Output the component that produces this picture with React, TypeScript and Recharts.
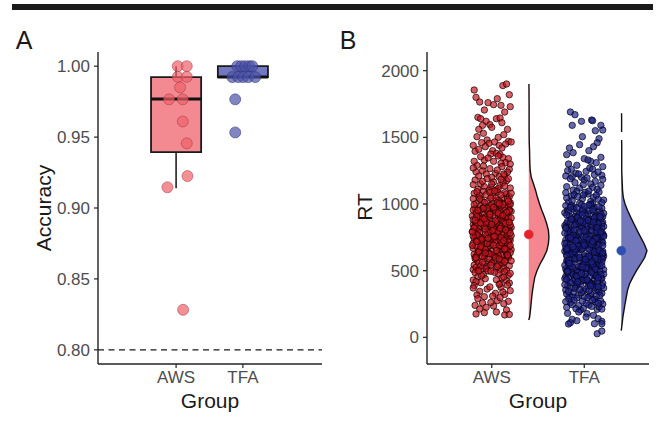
import React from "react"
import {
  ScatterChart,
  ComposedChart,
  Scatter,
  Area,
  XAxis,
  YAxis,
  ReferenceArea,
  ReferenceLine,
} from "recharts"

const groups = ["AWS", "TFA"]

// panel A: per-participant accuracy
const awsAccuracy = [1.0, 1.0, 0.9925, 0.9925, 0.985, 0.9766, 0.9766, 0.961, 0.9456, 0.9225, 0.9146, 0.8282]
const awsAccJitter = [0.025, 0.16, 0.025, 0.16, 0.06, -0.105, 0.1, 0.1, 0.16, 0.17, -0.13, 0.105]
const tfaAccuracy = [1.0, 1.0, 1.0, 1.0, 1.0, 0.9923, 0.9923, 0.9923, 0.9923, 0.9923, 0.9766, 0.9533]
const tfaAccJitter = [-0.085, -0.025, 0.035, 0.095, 0.14, -0.16, -0.07, 0.005, 0.08, 0.185, -0.115, -0.115]

const boxQ1 = [0.9394, 0.9923]
const boxMedian = [0.9768, 0.9923]
const boxQ3 = [0.9923, 1.0]
const whiskerLow = [0.914, 0.9923]
const whiskerHigh = [1.0, 1.0]

// panel B: single trials [jitter, RT]
const awsTrials = [
  [-0.19,1855],[0.12,1888],[0.16,1900],[-0.17,1800],[0.19,1820],[0.06,1790],
  [-0.04,1760],[-0.13,1765],[0.02,1745],[0.10,1740],[0.20,1730],[-0.08,1705],[0.14,1690],
  [-0.15,1650],[-0.12,1640],[0.05,1640],[0.09,1645],[-0.06,1620],[0.11,1610],[-0.02,1595],[0.17,1560],[-0.10,1590],
  [-0.14,1560],[0.00,1575],[-0.09,1530],[0.07,1500],[-0.16,1505],[0.13,1520],[-0.05,1480],[0.18,1470],
  [-0.18,1395],[-0.11,1460],[-0.03,1455],[0.03,1465],[0.08,1440],[0.15,1450],[0.21,1465],[-0.07,1430],[0.11,1420],[-0.14,1410],[0.01,1400],[-0.20,1440],
  [-0.01,1375],[0.05,1380],[0.09,1370],[0.12,1350],[0.18,1340],[-0.16,1290],[-0.08,1330],[0.02,1320],[0.15,1310],[-0.12,1355],[0.20,1300],[-0.04,1345],[0.07,1360],[-0.19,1320],[0.10,1305],
  [-0.17,1240],[-0.10,1250],[0.04,1230],[0.14,1215],[-0.02,1265],[0.19,1260],[-0.06,1225],[0.08,1205],[-0.14,1210],[0.11,1280],[0.00,1200],[0.17,1240],[-0.20,1270],[0.06,1255],[-0.09,1285],[0.13,1225],
  [-0.18,1180],[-0.12,1150],[-0.05,1190],[0.02,1165],[0.09,1140],[0.16,1175],[0.20,1120],[-0.15,1110],[-0.08,1130],[0.05,1105],[0.12,1160],[-0.01,1125],[0.18,1190],[-0.20,1145],[0.07,1115],[-0.10,1170],[0.14,1135],[0.00,1150],[-0.03,1102],[0.10,1185],
  [-0.19,1080],[-0.14,1050],[-0.09,1095],[-0.04,1020],[0.01,1060],[0.06,1090],[0.11,1040],[0.16,1075],[0.20,1010],[-0.17,1005],[-0.11,1030],[-0.06,1070],[0.00,1000],[0.04,1045],[0.09,1015],[0.14,1085],[0.19,1055],[-0.20,1040],[-0.13,1065],[-0.02,1088],[0.07,1025],[0.12,1003],[0.17,1035],[-0.08,1012],[0.03,1098],[-0.16,1092],[0.10,1068],[0.21,1080],
  [-0.21,910],[-0.18,965],[-0.15,940],[-0.12,985],[-0.09,920],[-0.06,955],[-0.03,905],[0.00,975],[0.03,935],[0.06,990],[0.09,915],[0.12,960],[0.15,930],[0.18,980],[0.21,945],[-0.19,995],[-0.16,925],[-0.13,950],[-0.10,970],[-0.07,902],
  [-0.04,942],[-0.01,988],[0.02,918],[0.05,962],[0.08,948],[0.11,908],[0.14,972],[0.17,938],[0.20,996],[-0.20,955],[-0.14,912],[-0.08,978],[-0.02,928],[0.04,952],[0.10,985],[0.16,905],[-0.17,932],[-0.05,968],[0.07,922],[0.19,958],
  [-0.20,845],[0.13,812],[-0.07,878],[0.04,833],[0.18,866],[-0.15,801],[0.09,889],[-0.01,851],[0.21,824],[-0.11,870],[0.06,806],[-0.18,838],[0.15,895],[-0.04,817],[0.11,859],[-0.13,884],[0.01,842],[0.19,803],[-0.09,827],[0.07,873],[-0.17,861],[0.14,836],[-0.02,898],
  [0.10,809],[-0.20,882],[0.03,855],[0.17,828],[-0.06,848],[0.12,877],[-0.14,815],[0.00,868],[0.20,842],[-0.10,893],[0.05,820],[-0.16,853],[0.16,886],[-0.03,804],[0.08,840],[-0.19,819],[0.13,862],[-0.08,835],[0.02,812],[0.18,899],[-0.12,857],[0.10,830],
  [0.16,752],[-0.12,718],[0.03,786],[-0.19,741],[0.09,703],[-0.05,767],[0.20,729],[-0.15,795],[0.06,756],[-0.08,712],[0.13,778],[-0.01,735],[0.18,798],[-0.17,762],[0.01,724],[-0.10,749],[0.11,770],[-0.20,706],[0.07,744],[-0.03,791],[0.15,716],[-0.13,783],[0.04,760],[-0.06,728],
  [0.19,739],[-0.18,774],[0.08,799],[-0.11,707],[0.14,746],[0.00,765],[-0.16,733],[0.10,711],[-0.04,789],[0.21,763],[-0.09,743],[0.05,722],[-0.14,757],[0.17,781],[-0.02,701],[0.12,737],[-0.21,794],[0.02,751],[-0.07,772],[0.09,727],[0.18,714],[-0.12,745],[0.06,788],[-0.16,768],
  [-0.13,655],[0.08,612],[-0.02,688],[0.17,640],[-0.18,603],[0.05,671],[-0.09,626],[0.14,694],[0.00,645],[-0.20,668],[0.11,618],[-0.06,651],[0.19,679],[-0.15,633],[0.03,607],[0.09,662],[-0.11,697],[0.16,624],[-0.04,640],[0.21,658],[-0.17,685],[0.06,631],[-0.08,610],
  [0.12,674],[-0.01,699],[-0.19,622],[0.15,648],[-0.12,664],[0.02,692],[0.18,605],[-0.05,638],[0.10,681],[-0.14,646],[0.07,616],[-0.21,690],[0.13,657],[-0.03,628],[0.20,635],[-0.10,672],[0.04,601],[-0.16,614],[0.11,685],[-0.07,660],[0.16,666],[0.01,619],
  [0.12,552],[-0.16,578],[0.05,521],[-0.08,594],[0.19,537],[-0.02,566],[0.09,505],[-0.19,541],[0.15,583],[-0.11,512],[0.02,571],[-0.05,529],[0.18,599],[-0.14,556],[0.07,545],[-0.20,508],[0.13,517],[-0.03,588],
  [0.10,561],[-0.17,525],[0.21,574],[-0.09,548],[0.04,596],[-0.12,534],[0.16,503],[0.00,558],[-0.06,515],[0.11,580],[-0.18,590],[0.06,531],[-0.01,543],[0.14,569],[-0.15,502],[0.08,587],[-0.10,564],
  [-0.18,485],[0.14,492],[-0.09,470],[0.07,478],[-0.15,455],[0.18,465],[-0.04,498],[0.11,445],[-0.20,430],[0.03,488],[-0.12,410],[0.16,425],[0.09,402],[-0.07,440],[0.20,480],[-0.17,418],[0.13,452],[-0.01,495],[0.05,432],[-0.11,462],[0.19,407],[-0.14,498],
  [-0.19,388],[0.10,375],[-0.05,362],[0.17,392],[-0.13,345],[0.04,330],[0.20,350],[-0.16,318],[0.08,398],[-0.08,305],[0.14,322],[-0.02,378],[0.12,340],[-0.20,370],[0.01,310],
  [-0.15,290],[0.06,275],[-0.10,258],[0.18,270],[-0.18,240],[0.02,235],[0.13,252],[-0.06,225],[0.09,298],[-0.13,212],[0.16,205],[-0.01,262],
  [-0.17,175],[0.05,190],[0.14,168],[-0.08,185],[0.19,172],
  [-0.16,905],[0.04,872],[0.19,948],[-0.07,812],[0.12,995],[-0.20,760],[0.08,688],[-0.11,733],[0.15,855],[-0.02,922],[0.20,782],[-0.14,642],[0.06,1010],[-0.05,705],[0.17,617],[-0.18,878],[0.10,748],
  [-0.09,968],[0.01,801],[0.14,663],[-0.13,1038],[0.21,895],[-0.03,626],[0.07,933],[-0.19,822],[0.11,709],[-0.06,864],[0.18,1022],[-0.12,679],[0.03,757],[0.16,938],[-0.17,598],[0.09,818],[-0.01,1045],
  [-0.15,953],[0.13,725],[0.05,650],[-0.08,888],[0.20,690],[-0.21,790],[0.02,975],[-0.10,608],[0.15,806],[-0.04,742],[0.19,864],[-0.16,718],[0.08,1002],[-0.07,632],[0.12,915],[0.00,847],
]

const tfaTrials = [
  [-0.15,1690],[-0.10,1670],[0.08,1630],[0.09,1625],[-0.13,1590],[-0.03,1620],[0.18,1590],[0.12,1550],
  [0.20,1555],[-0.02,1505],[0.16,1490],[0.14,1460],
  [-0.16,1420],[-0.05,1445],[0.05,1400],[-0.12,1385],[0.10,1430],[0.18,1350],[-0.19,1370],
  [0.00,1340],[0.07,1320],[-0.17,1300],[0.13,1310],[-0.08,1290],[0.20,1280],[0.04,1330],[-0.14,1260],
  [-0.18,1250],[-0.09,1230],[0.02,1245],[0.11,1220],[0.19,1215],[-0.13,1205],[0.06,1270],[-0.03,1200],[0.15,1240],[-0.20,1210],[0.09,1262],[-0.06,1225],
  [-0.15,1190],[0.00,1180],[0.12,1170],[-0.10,1160],[0.07,1150],[0.18,1140],[-0.19,1130],[-0.05,1120],[0.14,1110],[0.03,1195],[-0.12,1105],[0.20,1185],[-0.01,1145],[0.09,1125],
  [-0.20,1085],[-0.14,1060],[-0.08,1095],[-0.02,1040],[0.04,1075],[0.10,1050],[0.16,1090],[0.21,1030],[-0.17,1015],[-0.11,1070],[-0.05,1005],[0.01,1088],[0.07,1020],[0.13,1065],[0.19,1010],[-0.19,1045],[-0.07,1055],[0.05,1098],[0.15,1035],[-0.13,1025],[0.09,1002],[-0.01,1068],
  [-0.21,935],[0.11,972],[-0.06,915],[0.17,948],[-0.14,990],[0.04,925],[-0.01,960],[0.20,905],[-0.18,955],[0.08,985],[-0.09,940],[0.14,918],[-0.03,996],[0.01,932],[-0.16,910],[0.19,968],[0.06,950],[-0.11,978],[0.13,902],
  [-0.20,988],[-0.05,928],[0.10,945],[0.16,980],[-0.12,962],[0.02,912],[-0.17,942],[0.07,998],[-0.08,970],[0.21,930],[-0.02,952],[0.12,908],[-0.15,975],[0.05,992],[0.18,922],[-0.10,905],[0.00,982],[-0.19,918],[0.09,958],
  [0.15,842],[-0.12,878],[0.03,805],[-0.19,855],[0.10,890],[-0.04,828],[0.20,862],[-0.16,812],[0.07,848],[-0.08,895],[0.13,820],[0.00,872],[-0.21,838],[0.17,803],[-0.10,860],[0.05,885],[-0.14,815],[0.19,852],[-0.02,835],[0.11,898],[-0.18,870],[0.08,808],[-0.06,845],
  [0.14,866],[0.01,822],[-0.13,888],[0.21,832],[-0.09,850],[0.04,876],[-0.17,802],[0.12,858],[-0.03,818],[0.18,892],[-0.11,840],[0.06,865],[-0.20,825],[0.16,810],[-0.05,882],[0.09,830],[-0.15,868],[0.02,852],[0.19,818],[-0.07,899],[0.13,844],[-0.01,862],
  [-0.17,752],[0.09,718],[-0.04,786],[0.18,741],[-0.12,703],[0.05,767],[-0.20,729],[0.14,795],[-0.07,756],[0.01,712],[0.20,778],[-0.15,735],[0.08,798],[-0.02,762],[0.16,724],[-0.10,749],[0.03,770],[-0.19,706],[0.12,744],[-0.05,791],[0.19,716],[-0.13,783],[0.06,760],[-0.08,728],[0.15,739],
  [-0.18,774],[0.00,799],[0.10,707],[-0.14,746],[0.21,765],[-0.03,733],[0.07,711],[-0.16,789],[0.13,763],[-0.09,743],[0.04,722],[0.17,757],[-0.21,781],[-0.01,701],[0.11,737],[-0.11,794],[0.02,751],[0.18,772],[-0.06,727],[0.09,714],[-0.17,745],[0.14,788],[-0.12,768],[0.05,735],[0.20,709],
  [0.13,655],[-0.10,612],[0.02,688],[-0.18,640],[0.17,603],[-0.05,671],[0.08,626],[-0.15,694],[0.20,645],[-0.01,668],[-0.12,618],[0.11,651],[-0.20,679],[0.05,633],[0.15,607],[-0.08,662],[0.00,697],[-0.16,624],[0.18,640],[-0.03,658],[0.09,685],[-0.13,631],[0.21,610],[-0.06,674],[0.04,699],[-0.19,622],
  [0.12,648],[-0.09,664],[0.16,692],[0.01,605],[-0.14,638],[0.07,681],[-0.21,646],[0.19,616],[-0.04,690],[0.10,657],[-0.11,628],[0.14,635],[-0.17,672],[0.03,601],[0.18,614],[-0.07,685],[0.06,660],[-0.02,666],[-0.15,619],[0.12,677],[-0.19,652],[0.08,695],[0.20,628],[-0.10,642],[0.00,612],[0.15,669],
  [-0.14,552],[0.10,578],[-0.03,521],[0.19,594],[-0.17,537],[0.05,566],[-0.09,505],[0.15,541],[0.00,583],[-0.20,512],[0.12,571],[-0.06,529],[0.18,599],[-0.12,556],[0.03,545],[0.21,508],[-0.16,517],[0.08,588],[-0.01,561],[0.14,525],[-0.19,574],[0.06,548],[-0.07,596],[0.17,534],[-0.11,503],
  [0.01,558],[0.11,515],[-0.15,580],[0.20,590],[-0.04,531],[0.09,543],[-0.18,569],[0.13,502],[-0.08,587],[0.04,564],[-0.21,540],[0.16,555],[-0.02,510],[0.07,597],[-0.13,526],[0.19,563],[-0.05,575],[0.10,533],[-0.10,590],[0.02,518],[0.15,585],[-0.17,560],[0.06,506],[-0.01,545],[0.12,592],
  [0.16,452],[-0.13,478],[0.04,421],[-0.19,494],[0.11,437],[-0.06,466],[0.20,405],[-0.10,441],[0.02,483],[-0.16,412],[0.14,471],[-0.03,429],[0.08,499],[-0.20,456],[0.18,445],[-0.08,408],[0.05,417],[-0.14,488],[0.12,461],[-0.01,425],[0.21,474],[-0.17,448],[0.07,496],
  [-0.11,434],[0.15,403],[0.00,458],[-0.05,415],[0.10,480],[-0.18,490],[0.03,431],[0.19,443],[-0.12,469],[0.09,402],[-0.07,487],[0.13,464],[-0.21,440],[0.06,455],[-0.15,410],[0.17,497],[-0.02,426],[0.01,475],[-0.09,463],[0.14,418],[-0.19,433],[0.08,485],
  [-0.18,385],[0.12,352],[-0.04,398],[0.19,331],[-0.14,366],[0.06,310],[-0.09,378],[0.16,342],[0.00,305],[-0.20,355],[0.10,392],[-0.06,320],[0.21,370],[-0.12,337],[0.04,382],[-0.16,312],[0.14,360],[-0.01,348],
  [0.08,399],[-0.19,325],[0.17,315],[-0.08,390],[0.02,362],[-0.13,302],[0.11,375],[-0.03,335],[0.19,388],[-0.17,345],[0.07,326],[-0.10,368],[0.13,308],[-0.21,395],[0.05,350],[0.15,380],[-0.05,358],
  [0.11,285],[-0.15,260],[0.05,242],[-0.08,295],[0.18,270],[-0.19,225],[0.02,255],[0.14,210],[-0.11,278],[0.08,232],[-0.04,205],[0.20,250],[-0.17,290],[0.12,265],[-0.01,218],[-0.13,245],[0.16,228],[0.04,298],[-0.06,238],[0.19,212],[-0.20,268],[0.09,280],[-0.09,215],[0.15,257],[-0.02,272],
  [-0.18,180],[0.10,165],[-0.06,190],[0.15,140],[-0.13,135],[0.03,178],[0.19,120],[-0.15,110],
  [-0.17,100],[-0.08,125],[0.02,152],[0.11,102],[0.19,102],[0.14,27],[0.19,47],
  [0.17,905],[-0.04,872],[0.09,548],[-0.19,612],[0.13,795],[-0.08,455],[0.20,688],[-0.13,733],[0.02,520],[0.15,855],[-0.17,578],[0.06,402],[-0.02,922],[0.11,642],[-0.21,705],[0.18,470],[-0.06,617],
  [0.04,878],[-0.15,748],[0.19,538],[-0.10,663],[0.07,385],[0.14,822],[-0.01,709],[-0.18,495],[0.10,864],[-0.12,679],[0.21,757],[-0.05,598],[0.03,432],[0.16,650],[-0.20,818],[0.08,565],
  [-0.09,725],[0.12,512],[-0.14,888],[0.00,690],[0.18,790],[-0.03,478],[0.05,608],[-0.16,555],[0.13,742],[-0.07,418],[0.20,632],[-0.11,805],[0.01,585],[0.09,718],[-0.19,665],[0.15,445],[-0.02,528],
]

const rtMeans = [772, 650]
const violinBase = [1.4, 2.4]

// half-violin density (x units) on an RT grid
const rtGrid = [50, 100, 130, 150, 200, 250, 300, 350, 400, 450, 500, 550, 600, 650, 700, 750, 800, 850, 900, 950, 1000, 1050, 1100, 1150, 1200, 1250, 1300, 1350, 1400, 1450, 1480, 1500, 1540, 1550, 1600, 1650, 1680, 1700, 1750, 1800, 1850, 1900]
const awsDensity = [null, null, 0, 0.009, 0.018, 0.025, 0.032, 0.041, 0.052, 0.065, 0.089, 0.122, 0.162, 0.195, 0.212, 0.218, 0.213, 0.195, 0.171, 0.143, 0.117, 0.094, 0.075, 0.052, 0.027, 0.016, 0.012, 0.01, 0.009, 0.006, 0.005, 0.005, 0.004, 0.004, 0.004, 0.004, 0.004, 0.004, 0.004, 0.003, 0.003, 0.002]
const tfaDensity = [0, 0.009, 0.014, 0.017, 0.029, 0.041, 0.054, 0.067, 0.089, 0.124, 0.165, 0.211, 0.254, 0.278, 0.249, 0.211, 0.173, 0.138, 0.103, 0.07, 0.041, 0.022, 0.014, 0.011, 0.008, 0.005, 0.005, 0.005, 0.005, 0.005, 0.004, null, 0.004, 0.004, 0.004, 0.004, 0.003, null, null, null, null, null]

const FONT = "'Liberation Sans', Arial, Helvetica, sans-serif"
const axisLine = { stroke: "#222", strokeWidth: 1.4 }
const tickLine = { stroke: "#222", strokeWidth: 1.2 }
const tickStyle = { fill: "#4d4d4d", fontSize: 17, fontFamily: FONT }

const accAws = awsAccuracy.map((v, i) => ({ x: 1 + awsAccJitter[i], y: v }))
const accTfa = tfaAccuracy.map((v, i) => ({ x: 2 + tfaAccJitter[i], y: v }))
const rtAws = awsTrials.map(([j, v]) => ({ x: 1 + j, y: v }))
const rtTfa = tfaTrials.map(([j, v]) => ({ x: 2 + j, y: v }))
const violinRows = rtGrid.map((rt, i) => ({
  rt,
  aws: awsDensity[i] == null ? null : violinBase[0] + (awsDensity[i] as number),
  tfa: tfaDensity[i] == null ? null : violinBase[1] + (tfaDensity[i] as number),
}))

const dot = (r: number, fill: string, stroke: string, fo: number, so = 0.65) => (p: any) => (
  <circle cx={p.cx} cy={p.cy} r={r} fill={fill} fillOpacity={fo} stroke={stroke} strokeOpacity={so} strokeWidth={0.8} />
)

const boxFill = ["#f38a92", "#7378c0"]

function Title({ text, x, y, size = 21, rotate = false }: { text: string; x: number; y: number; size?: number; rotate?: boolean }) {
  return (
    <div
      style={{
        position: "absolute",
        left: x,
        top: y,
        transform: `translate(-50%, -50%)${rotate ? " rotate(-90deg)" : ""}`,
        fontFamily: FONT,
        fontSize: size,
        lineHeight: 1,
        color: "#1a1a1a",
        whiteSpace: "nowrap",
      }}
    >
      {text}
    </div>
  )
}

export default function App() {
  return (
    <div style={{ position: "absolute", left: 0, top: 0, width: 661, height: 424, background: "#fff", overflow: "hidden" }}>
      <div style={{ position: "absolute", left: 12, top: 4, width: 641, height: 6, background: "#1a1a1a" }} />

      {/* panel A */}
      <div style={{ position: "absolute", left: 0, top: 0 }}>
        <ScatterChart width={330} height={424} margin={{ top: 52, right: 8, bottom: 0, left: 0 }}>
          <XAxis
            type="number"
            dataKey="x"
            domain={[-0.169, 3.184]}
            allowDataOverflow
            ticks={[1, 2]}
            tickFormatter={(v) => groups[v - 1]}
            height={60}
            tickSize={4}
            tickMargin={3}
            axisLine={axisLine}
            tickLine={tickLine}
            tick={tickStyle}
          />
          <YAxis
            type="number"
            dataKey="y"
            domain={[0.79, 1.01]}
            allowDataOverflow
            ticks={[0.8, 0.85, 0.9, 0.95, 1.0]}
            tickFormatter={(v) => v.toFixed(2)}
            width={98}
            tickSize={4}
            tickMargin={4}
            axisLine={axisLine}
            tickLine={tickLine}
            tick={tickStyle}
          />
          <ReferenceLine y={0.8} stroke="#1a1a1a" strokeWidth={1.3} strokeDasharray="6 4.5" />
          {groups.map((g, i) => (
            <ReferenceLine
              key={g + "wl"}
              segment={[{ x: i + 1, y: whiskerLow[i] }, { x: i + 1, y: boxQ1[i] }]}
              stroke="#222"
              strokeWidth={1.6}
            />
          ))}
          {groups.map((g, i) => (
            <ReferenceLine
              key={g + "wh"}
              segment={[{ x: i + 1, y: boxQ3[i] }, { x: i + 1, y: whiskerHigh[i] }]}
              stroke="#222"
              strokeWidth={1.6}
            />
          ))}
          {groups.map((g, i) => (
            <ReferenceArea
              key={g + "box"}
              x1={i + 1 - 0.375}
              x2={i + 1 + 0.375}
              y1={boxQ1[i]}
              y2={boxQ3[i]}
              fill={boxFill[i]}
              fillOpacity={1}
              stroke="#1a1a1a"
              strokeWidth={1.8}
            />
          ))}
          {groups.map((g, i) => (
            <ReferenceLine
              key={g + "med"}
              segment={[{ x: i + 1 - 0.375, y: boxMedian[i] }, { x: i + 1 + 0.375, y: boxMedian[i] }]}
              stroke="#111"
              strokeWidth={3}
            />
          ))}
          <Scatter data={accAws} isAnimationActive={false} shape={dot(5.5, "#f0606a", "#a03a42", 0.7)} />
          <Scatter data={accTfa} isAnimationActive={false} shape={dot(5.5, "#4c52aa", "#2a2e70", 0.7)} />
        </ScatterChart>
      </div>

      {/* panel B: half violins underneath */}
      <div style={{ position: "absolute", left: 330, top: 0 }}>
        <ComposedChart width={331} height={424} layout="vertical" data={violinRows} margin={{ top: 52, right: 12, bottom: 60, left: 97 }}>
          <XAxis type="number" domain={[0.3, 2.7]} allowDataOverflow hide />
          <YAxis type="number" dataKey="rt" domain={[-200, 2140]} allowDataOverflow reversed hide />
          <Area dataKey="aws" type="linear" baseValue={violinBase[0]} fill="#f3868e" fillOpacity={1} stroke="#111" strokeWidth={1.4} isAnimationActive={false} />
          <Area dataKey="tfa" type="linear" baseValue={violinBase[1]} fill="#7479bd" fillOpacity={1} stroke="#111" strokeWidth={1.4} isAnimationActive={false} />
        </ComposedChart>
      </div>

      {/* panel B: trials and means */}
      <div style={{ position: "absolute", left: 330, top: 0 }}>
        <ScatterChart width={331} height={424} margin={{ top: 52, right: 12, bottom: 0, left: 0 }}>
          <XAxis
            type="number"
            dataKey="x"
            domain={[0.3, 2.7]}
            allowDataOverflow
            ticks={[1, 2]}
            tickFormatter={(v) => groups[v - 1]}
            height={60}
            tickSize={4}
            tickMargin={3}
            axisLine={axisLine}
            tickLine={tickLine}
            tick={tickStyle}
          />
          <YAxis
            type="number"
            dataKey="y"
            domain={[-200, 2140]}
            allowDataOverflow
            ticks={[0, 500, 1000, 1500, 2000]}
            width={97}
            tickSize={4}
            tickMargin={4}
            axisLine={axisLine}
            tickLine={tickLine}
            tick={tickStyle}
          />
          <Scatter data={rtAws} isAnimationActive={false} shape={dot(3.2, "#c4141d", "#1a0000", 0.68, 0.9)} />
          <Scatter data={rtTfa} isAnimationActive={false} shape={dot(3.2, "#1c2082", "#03031e", 0.68, 0.9)} />
          <Scatter
            data={[{ x: violinBase[0], y: rtMeans[0] }]}
            isAnimationActive={false}
            shape={dot(4.5, "#e8222c", "#e8222c", 1)}
          />
          <Scatter
            data={[{ x: violinBase[1], y: rtMeans[1] }]}
            isAnimationActive={false}
            shape={dot(4.5, "#2f4fb0", "#2f4fb0", 1)}
          />
        </ScatterChart>
      </div>

      <Title text="A" x={24} y={40} size={25} />
      <Title text="B" x={348} y={40} size={25} />
      <Title text="Accuracy" x={43} y={208} rotate />
      <Title text="Group" x={210} y={400} />
      <Title text="RT" x={364} y={207} rotate />
      <Title text="Group" x={538} y={400} />
    </div>
  )
}
